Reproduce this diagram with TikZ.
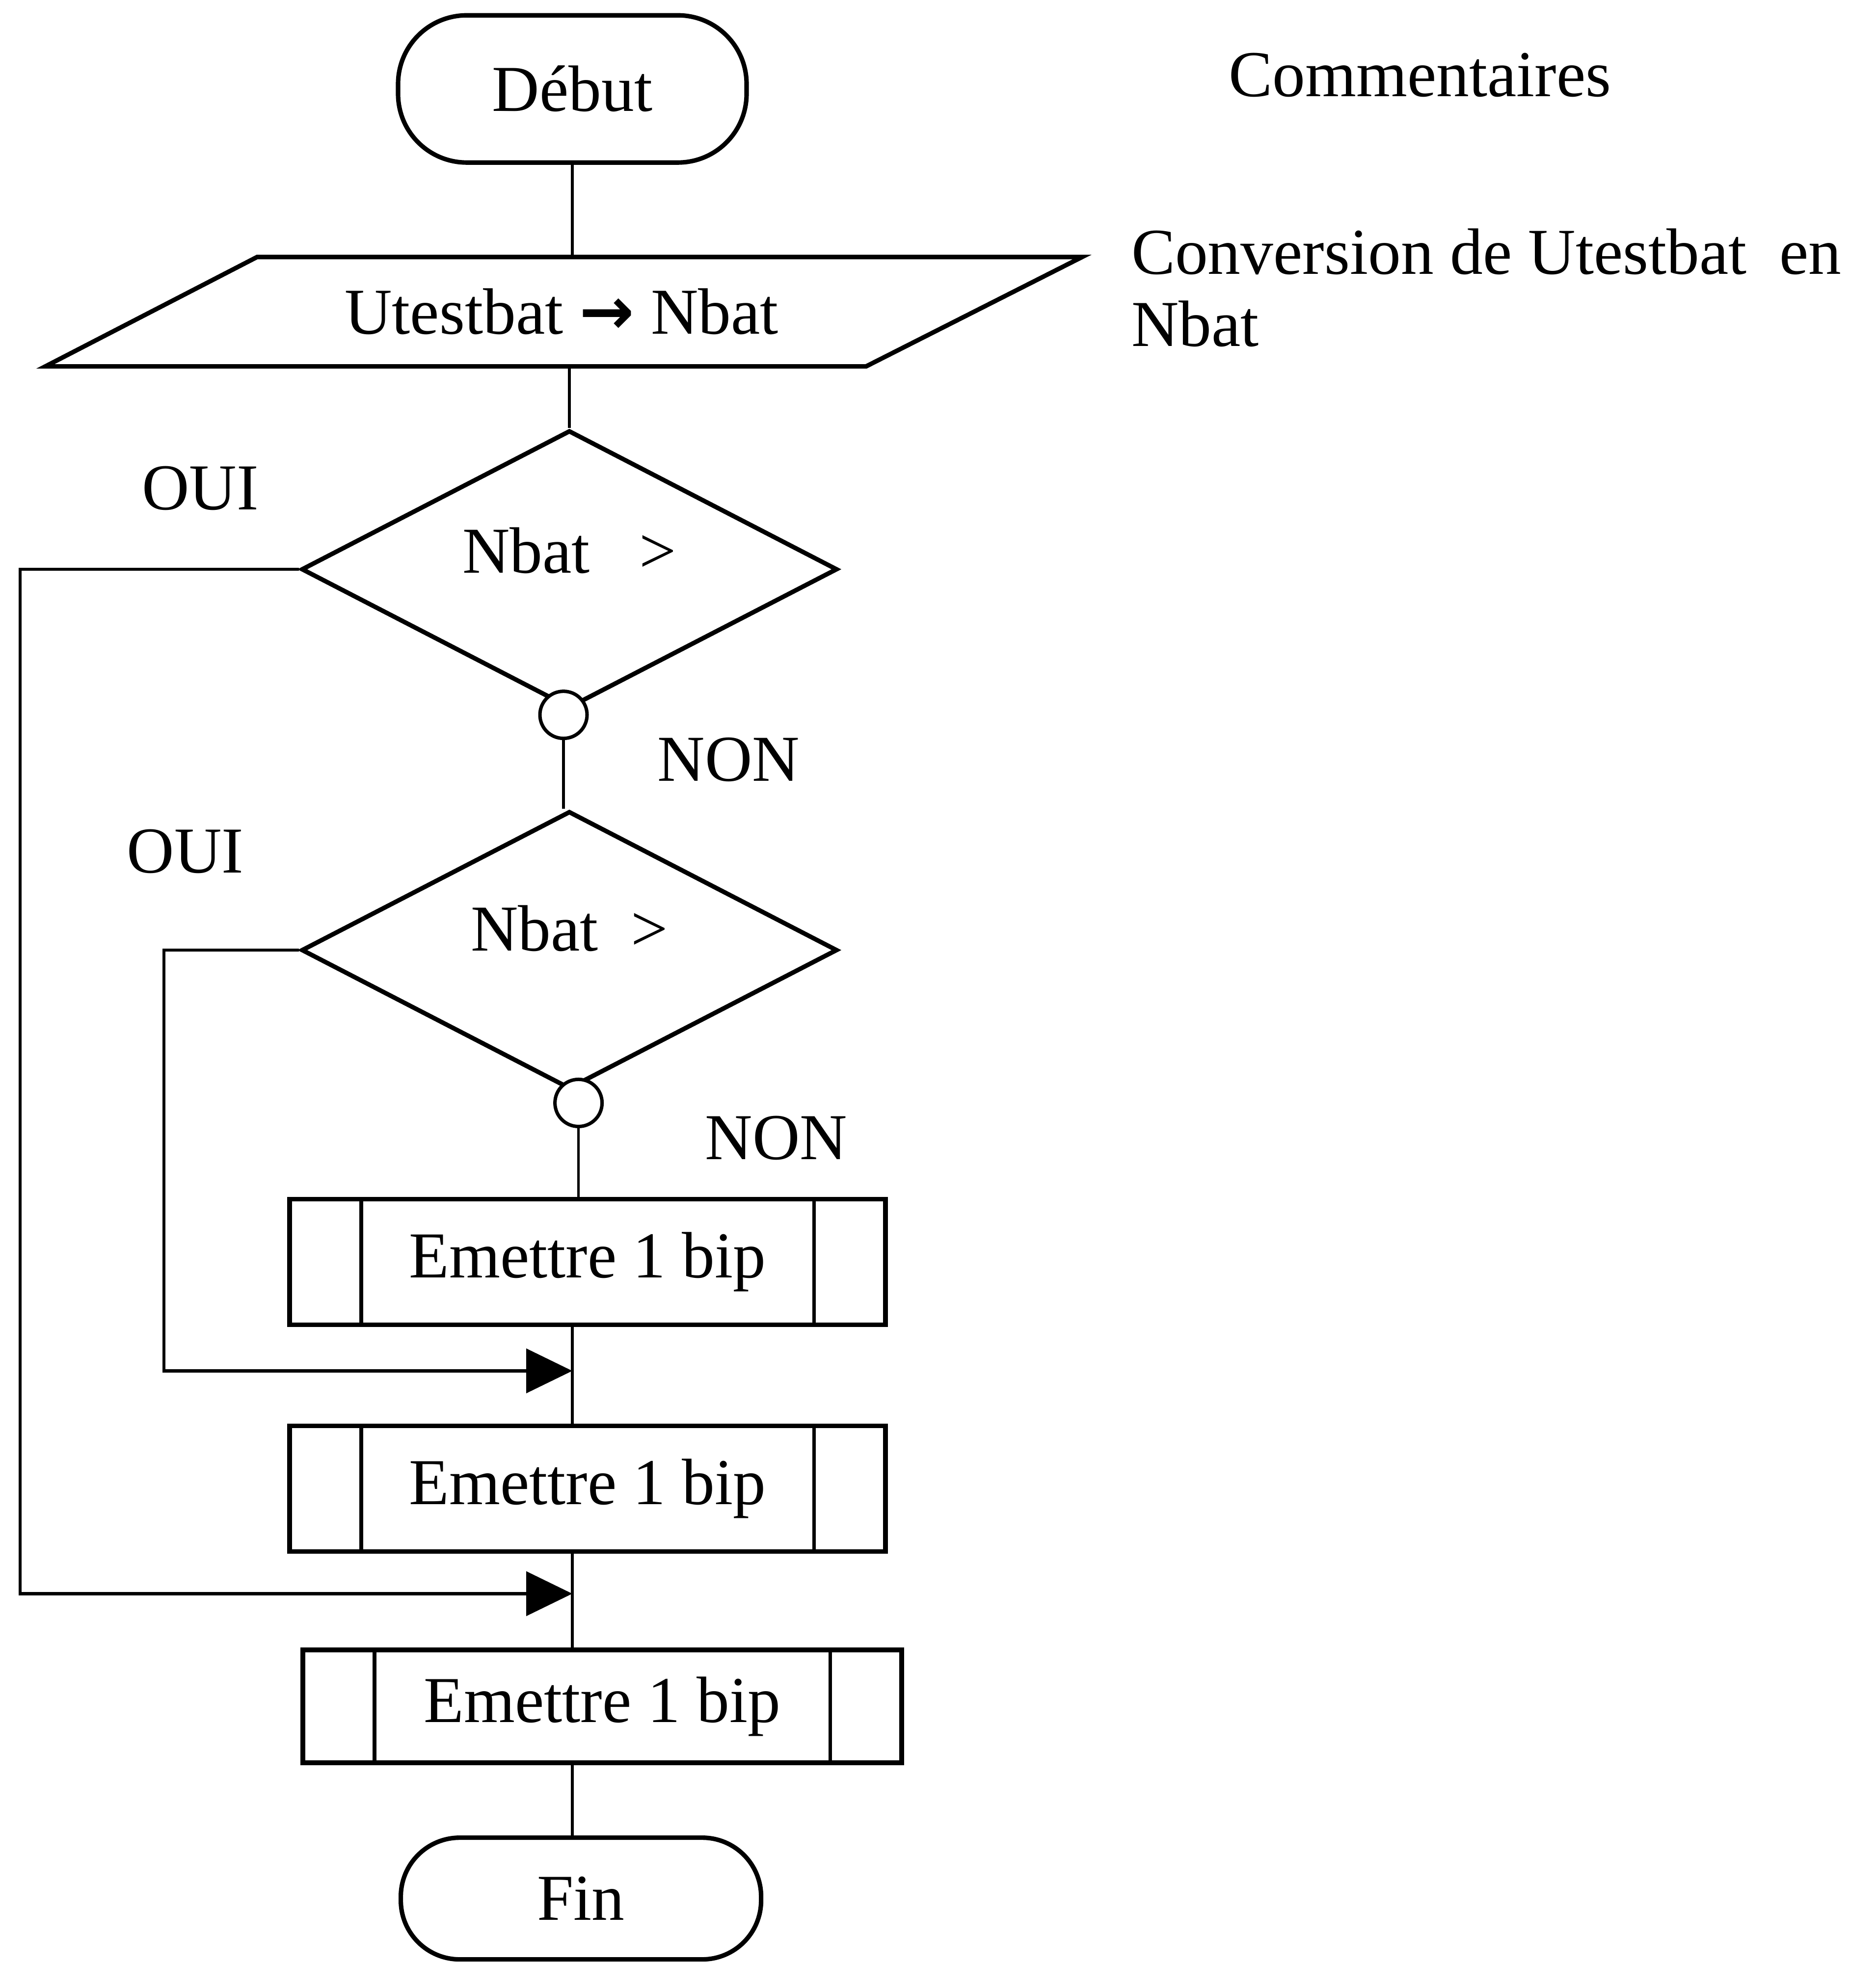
\documentclass[tikz,border=0pt]{standalone}
\usepackage{fontspec}
\setmainfont{Liberation Serif}
\newfontfamily\symfont{DejaVu Sans}
\usepackage{tikz}
\usetikzlibrary{shapes.geometric,arrows.meta,calc}

\begin{document}
\begin{tikzpicture}[font=\fontsize{19}{21}\selectfont,
    terminal/.style={draw, line width=1.3pt, rectangle, rounded corners=0.7cm, minimum width=3.55cm, minimum height=1.5cm, inner sep=0},
    entree/.style={rectangle, minimum width=6.19cm, minimum height=1.1cm, inner sep=0},
    decision/.style={draw, line width=1.3pt, diamond, minimum width=5.46cm, minimum height=2.83cm, inner sep=0},
    jonction/.style={draw, line width=1pt, circle, fill=white, minimum size=0.48cm, inner sep=0},
    subproc/.style={draw, line width=1.3pt, rectangle, minimum width=6.07cm, minimum height=1.28cm, inner sep=0,
        path picture={\draw[line width=1pt] ([xshift=0.73cm]path picture bounding box.north west) -- ([xshift=0.73cm]path picture bounding box.south west)
            ([xshift=-0.73cm]path picture bounding box.north east) -- ([xshift=-0.73cm]path picture bounding box.south east);}},
    lien/.style={line width=0.8pt},
    boucle/.style={line width=0.9pt, -{Triangle[length=0.47cm,width=0.45cm]}}]
\useasboundingbox (0,0) rectangle (19.107,-20);
% blocs
\node[terminal] (debut) at (5.83,-0.906) {Début};
\node[entree] (conv) at (5.72,-3.176) {Utestbat {\symfont\bfseries →} Nbat};
\draw[line width=1.3pt] ([xshift=-2.156cm]conv.south west) -- (conv.south east) -- ([xshift=2.2cm]conv.north east) -- (conv.north west) -- cycle;
\node[decision] (d1) at (5.80,-5.80) {};
\node (t1) at ([yshift=0.19cm]d1.center) {Nbat\ \ \ >};
\node[jonction] (c1) at (5.74,-7.283) {};
\node[decision] (d2) at (5.80,-9.68) {};
\node (t2) at ([yshift=0.22cm]d2.center) {Nbat\ \ >};
\node[jonction] (c2) at (5.893,-11.237) {};
\node[subproc] (b1) at (5.985,-12.857) {Emettre 1 bip};
\node[subproc] (b2) at (5.985,-15.166) {Emettre 1 bip};
\node[subproc, minimum width=6.1cm, minimum height=1.15cm] (b3) at (6.135,-17.385) {Emettre 1 bip};
\node[terminal, minimum width=3.67cm, minimum height=1.24cm, rounded corners=0.6cm] (fin) at (5.918,-19.343) {Fin};
% etiquettes
\node (oui1) at (2.041,-4.974) {OUI};
\node (non1) at (7.423,-7.742) {NON};
\node (oui2) at (1.888,-8.673) {OUI};
\node (non2) at (7.908,-11.594) {NON};
\node (comm) at (14.464,-0.765) {Commentaires};
\node[anchor=north west, inner sep=0, align=left] (cconv) at (11.518,-2.32) {Conversion de Utestbat\ \ en\\Nbat};
% points de passage
\coordinate (ax) at (5.83,0);
\coordinate (m1) at (5.83,-13.967);
\coordinate (m2) at (5.83,-16.237);
\coordinate (l1) at (0.204,0);
\coordinate (l2) at (1.671,0);
% liaisons
\draw[lien] (debut.south) -- (debut.south |- conv.north);
\draw[lien] (d1.north |- conv.south) -- (d1.north);
\draw[lien] (c1.south) -- (c1.south |- d2.north);
\draw[lien] (c2.south) -- (c2.south |- b1.north);
\draw[lien] (b1.south -| ax) -- (b2.north -| ax);
\draw[lien] (b2.south -| ax) -- (b3.north -| ax);
\draw[lien] (b3.south -| ax) -- (fin.north -| ax);
\draw[boucle] (d1.west) -- (d1.west -| l1) |- (m2);
\draw[boucle] (d2.west) -- (d2.west -| l2) |- (m1);
\end{tikzpicture}
\end{document}
